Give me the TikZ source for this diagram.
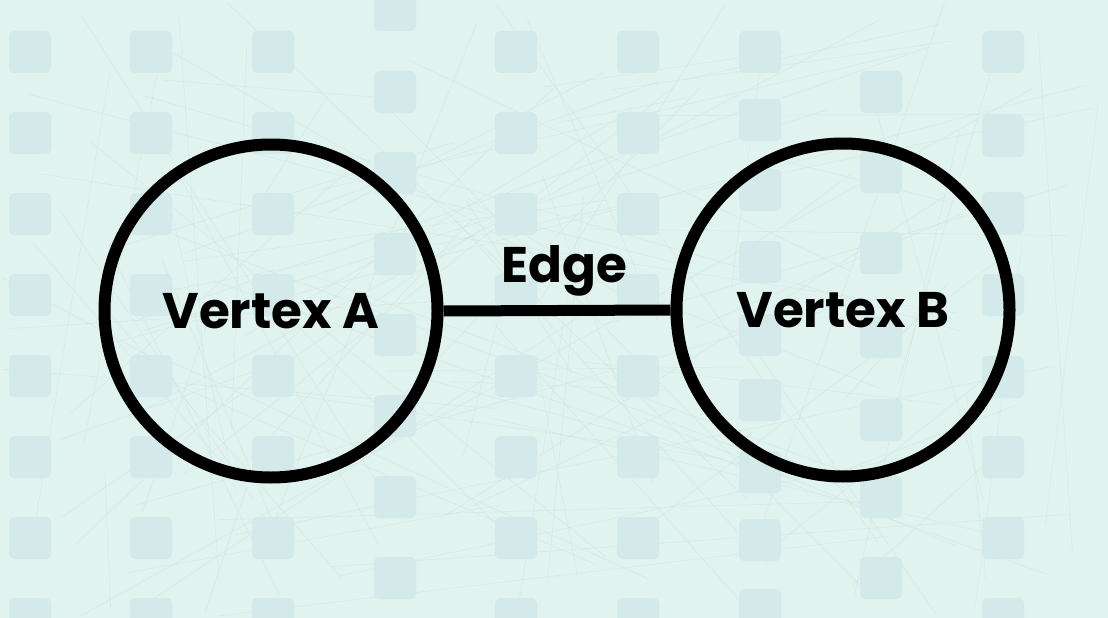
\documentclass[tikz,border=0pt]{standalone}
\usepackage{fontspec}
\setmainfont{Poppins}
\definecolor{bgmint}{RGB}{224,243,239}
\definecolor{tilecol}{RGB}{212,233,233}
\definecolor{linecol}{RGB}{205,226,225}
\begin{document}
\begin{tikzpicture}[x=1pt,y=-1pt,
  tile/.style={fill=tilecol,rounded corners=5pt,draw=none},
  vertex/.style={circle,draw=black,line width=12pt,minimum size=333pt,inner sep=0pt,
    font=\fontsize{50}{60}\selectfont\bfseries},
  edgeline/.style={draw=black,line width=11pt},
  edgelabel/.style={font=\fontsize{50}{60}\selectfont\bfseries,inner sep=0pt,anchor=base}]
\useasboundingbox (0,0) rectangle (1108,618);
\fill[bgmint] (0,0) rectangle (1108,618);
% faint background lines
\pgfmathsetseed{4}
\begin{scope}
\clip (0,0) rectangle (1108,618);
\foreach \i in {1,...,110}{
  \pgfmathsetmacro{\xa}{1108*rnd}
  \pgfmathsetmacro{\ya}{618*rnd}
  \pgfmathsetmacro{\xb}{1108*rnd}
  \pgfmathsetmacro{\yb}{618*rnd}
  \draw[linecol,line width=0.5pt,opacity=0.6] (\xa,\ya) -- (\xb,\yb);
}
\end{scope}
% background tiles
\foreach \cx/\rows in {30/{52,133,214,295,376,457,538,619},
                      151/{52,133,214,295,376,457,538,619},
                      273/{52,133,214,295,376,457,538,619},
                      395/{10,92,173,254,335,416,497,578},
                      516/{52,133,214,295,376,457,538,619},
                      638/{52,133,214,295,376,457,538,619},
                      760/{52,120,190,262,335,400,472,540,610},
                      881/{92,172,253,337,420,497,578},
                      1003/{52,136,213,295,377,457,538,619}}{
  \foreach \cy in \rows {
    \fill[tile] (\cx-21,\cy-21) rectangle (\cx+21,\cy+21);
  }
}
% graph
\node[vertex] (A) at (271,311) {Vertex A};
\node[vertex] (B) at (843,310) {Vertex B};
\draw[edgeline] (A.east) -- (B.west);
\node[edgelabel] (E) at (564,282) {Edge};
\end{tikzpicture}
\end{document}
